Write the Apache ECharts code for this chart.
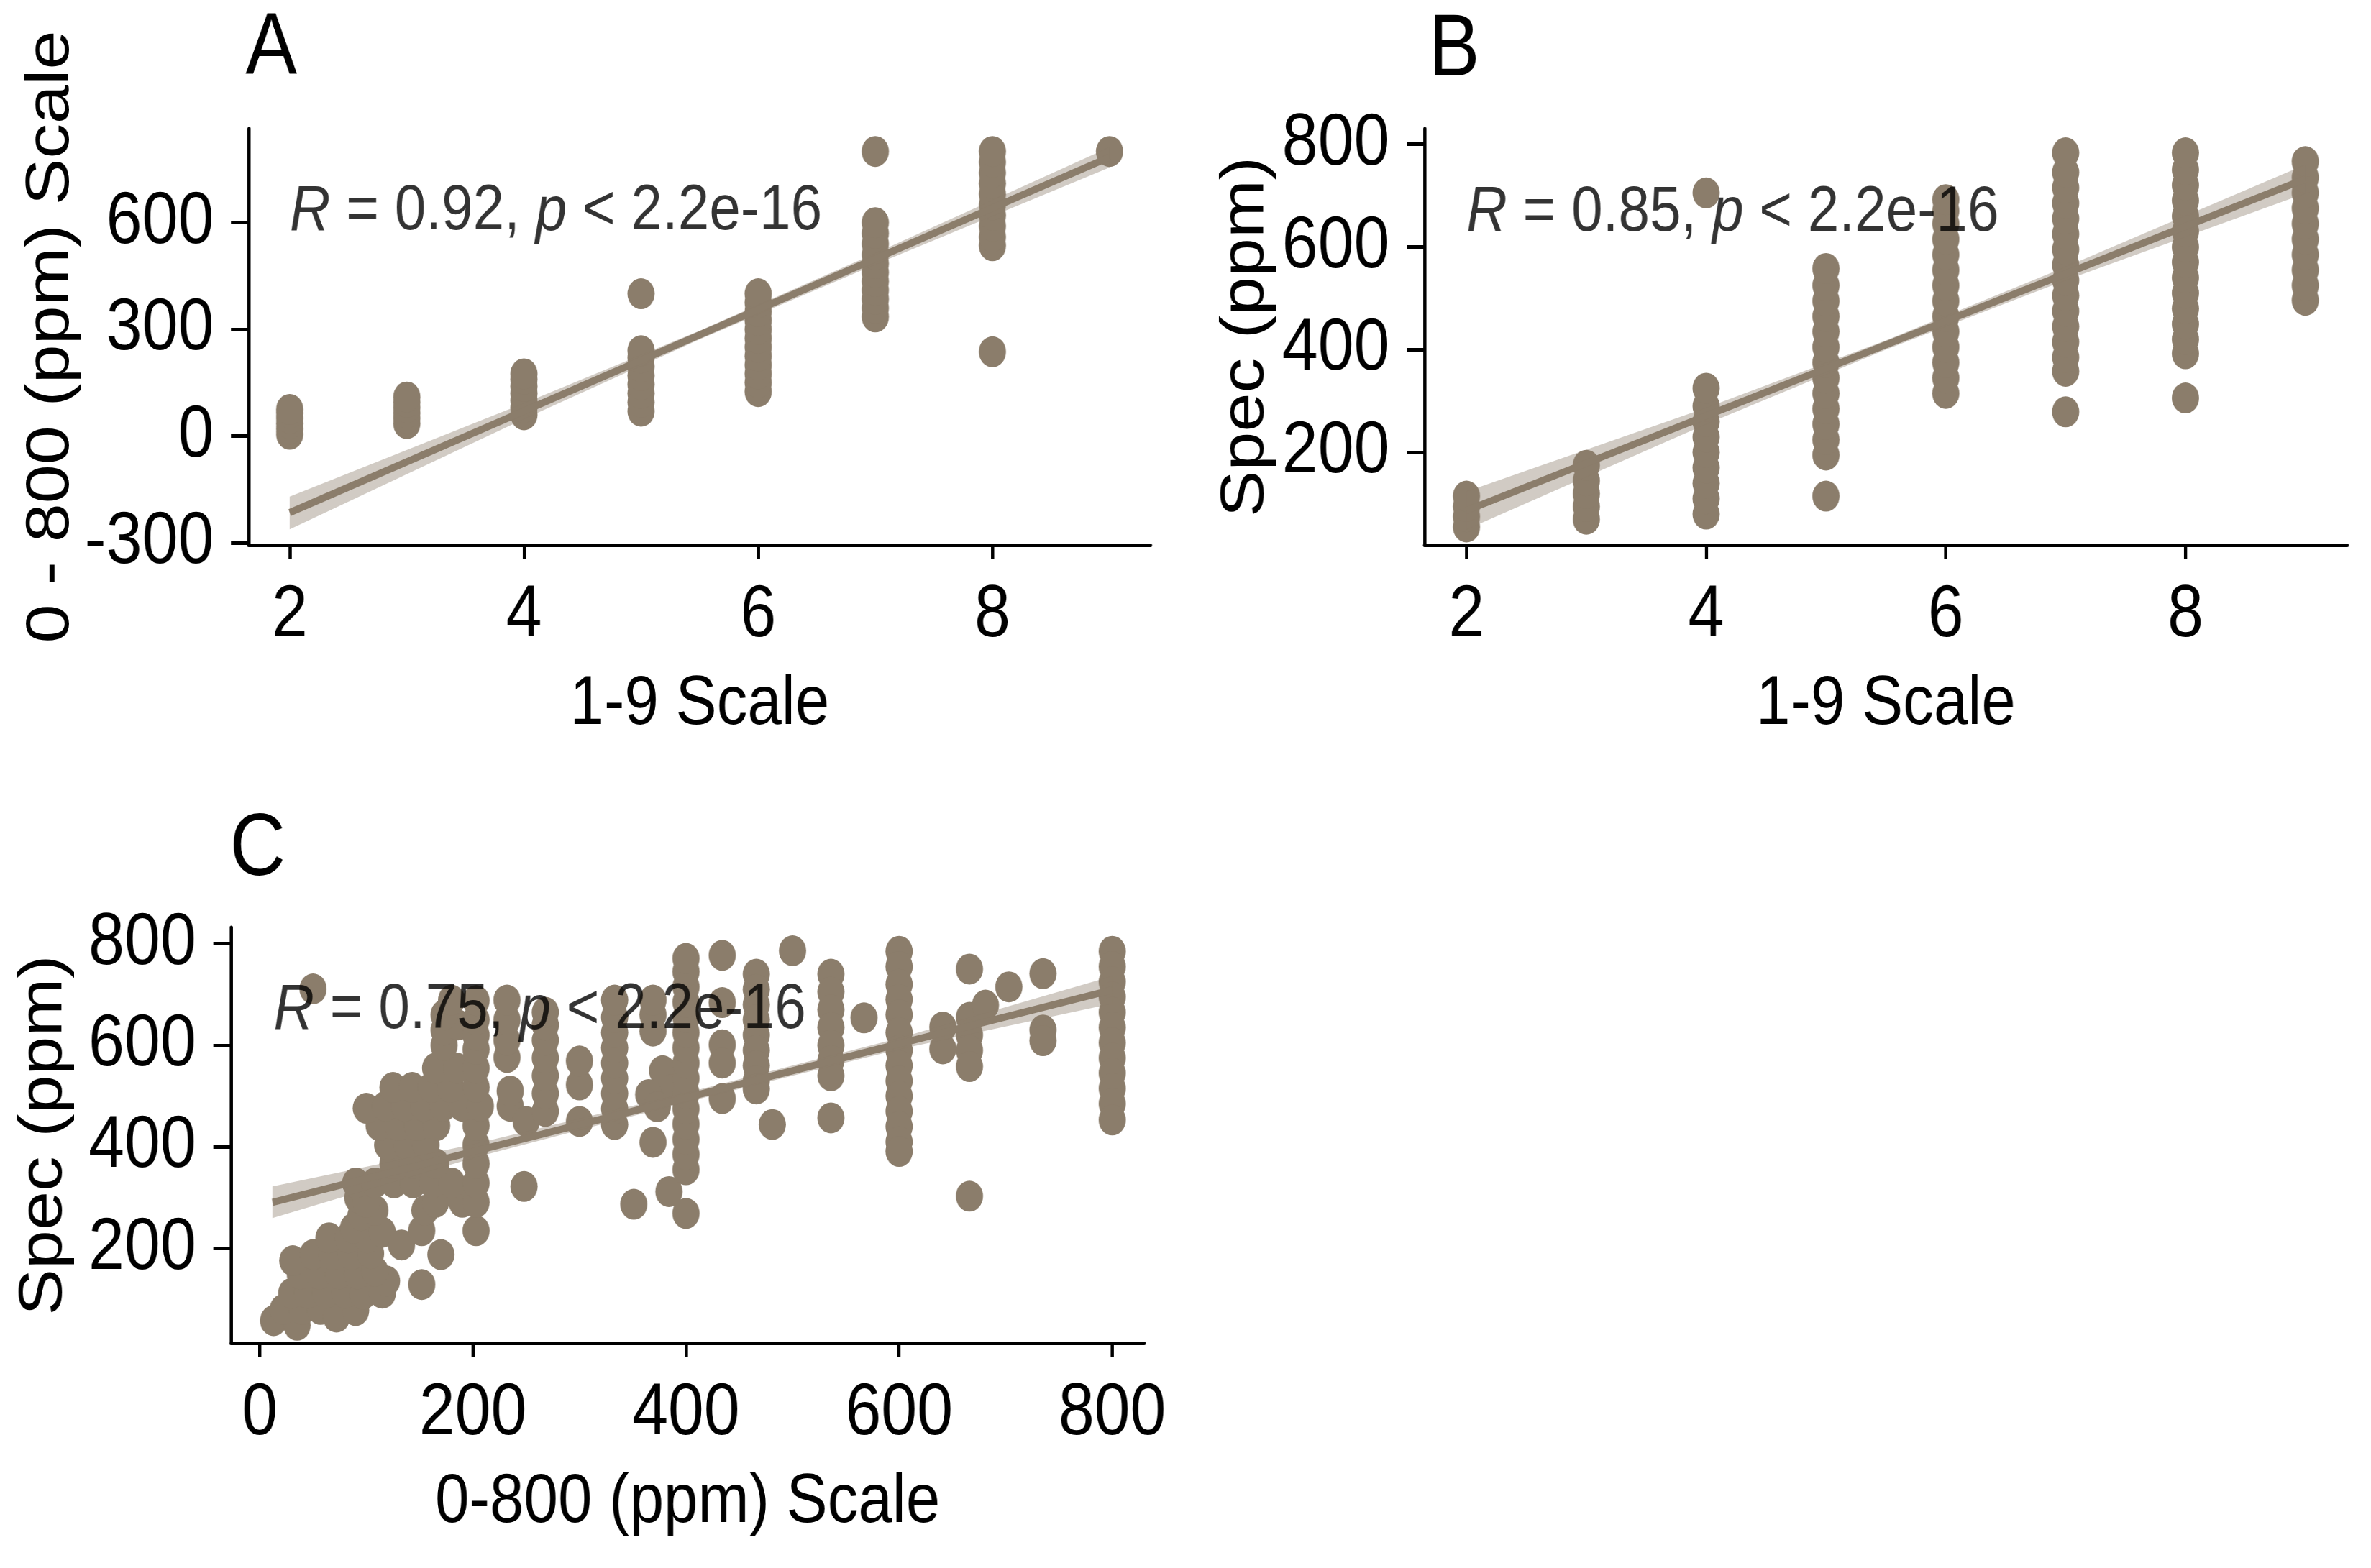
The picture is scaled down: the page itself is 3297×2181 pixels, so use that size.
<!DOCTYPE html>
<html>
<head>
<meta charset="utf-8">
<title>Scale comparison</title>
<script src="https://cdn.jsdelivr.net/npm/echarts@6/dist/echarts.min.js"></script>
<style>
html, body { margin: 0; padding: 0; background: #fff; overflow: hidden; width: 3297px; height: 2181px; }
/* the figure is a bit narrow horizontally, so draw wide and squeeze */
#main { width: 3747px; height: 2181px; transform: scaleX(0.88); transform-origin: 0 0; }
</style>
</head>
<body>
<div id="main"></div>
<script>
// tick labels
var ticks19 = [2, 4, 6, 8];
var ticksA_y = [-300, 0, 300, 600];
var ticksSpec = [200, 400, 600, 800];
var ticksPpm = [0, 200, 400, 600, 800];

// A : 1-9 scale vs 0-800 (ppm) scale
var pointsA = [
  [2,5],[2,20],[2,35],[2,50],[2,65],[2,75],
  [3,35],[3,50],[3,65],[3,80],[3,95],[3,110],
  [4,60],[4,80],[4,100],[4,120],[4,140],[4,160],[4,175],
  [5,70],[5,95],[5,120],[5,145],[5,170],[5,195],[5,220],[5,240],[5,400],
  [6,125],[6,150],[6,175],[6,200],[6,225],[6,250],[6,275],[6,300],[6,325],[6,350],[6,375],[6,400],
  [7,335],[7,360],[7,385],[7,410],[7,435],[7,460],[7,485],[7,510],[7,540],[7,570],[7,600],[7,800],
  [8,237],[8,535],[8,560],[8,590],[8,620],[8,650],[8,680],[8,710],[8,740],[8,770],[8,800],
  [9,800]
];
var fitA = [[2,-215],[9,784]];
var bandA_x = [2, 4, 5.5, 7, 9];
var bandA_lo = [-262, 48, 272, 482, 755];
var bandA_hi = [-170, 92, 296, 514, 812];

// B : 1-9 scale vs Spec (ppm)
var pointsB = [
  [2,55],[2,75],[2,95],[2,115],
  [3,70],[3,95],[3,120],[3,145],[3,175],
  [4,80],[4,110],[4,140],[4,170],[4,200],[4,230],[4,260],[4,290],[4,325],[4,705],
  [5,115],[5,195],[5,225],[5,255],[5,285],[5,315],[5,345],[5,375],[5,405],[5,435],[5,465],[5,495],[5,525],[5,558],
  [6,315],[6,345],[6,375],[6,405],[6,435],[6,465],[6,495],[6,525],[6,555],[6,585],[6,615],[6,645],[6,670],[6,692],
  [7,279],[7,358],[7,385],[7,415],[7,445],[7,475],[7,505],[7,535],[7,565],[7,595],[7,625],[7,655],[7,685],[7,715],[7,745],[7,783],
  [8,306],[8,392],[8,420],[8,450],[8,480],[8,510],[8,540],[8,570],[8,600],[8,630],[8,660],[8,690],[8,720],[8,750],[8,783],
  [9,496],[9,525],[9,555],[9,585],[9,615],[9,645],[9,675],[9,705],[9,735],[9,766]
];
var fitB = [[2,87],[9,732]];
var bandB_x = [2, 4, 5.5, 7, 9];
var bandB_lo = [50, 255, 400, 535, 704];
var bandB_hi = [124, 287, 418, 561, 760];

// C : 0-800 (ppm) scale vs Spec (ppm)
var pointsC = [
  [13,58],[35,49],[22,80],[40,80],[57,80],[72,65],[90,78],
  [30,112],[45,112],[62,112],[80,112],[97,110],[115,112],[119,136],
  [38,150],[56,150],[74,150],[92,150],[108,155],
  [31,176],[50,188],[68,188],[86,188],[104,190],
  [65,221],[83,221],[101,221],[115,232],[88,240],
  [133,207],[152,235],[170,188],[152,129],[203,235],
  [95,265],[108,275],[92,300],[155,275],
  [100,291],[165,291],[190,291],[203,291],
  [90,329],[108,329],[126,329],[144,329],[162,329],[180,329],[203,329],
  [125,367],[143,367],[165,367],[203,367],
  [120,404],[138,404],[156,404],[203,404],
  [112,442],[130,442],[148,442],[166,442],[203,442],
  [100,476],[118,480],[136,480],[154,480],[172,480],[190,480],[207,480],
  [125,517],[143,517],[161,517],[179,517],[203,517],
  [165,555],[185,555],[203,555],
  [173,600],[173,630],[186,640],[173,660],[180,689],[203,592],[203,620],[203,650],[203,688],
  [232,576],[232,610],[232,650],[232,689],
  [235,480],[235,510],[250,450],[248,322],
  [268,470],[268,505],[268,540],[268,575],[268,610],[268,640],[268,665],
  [300,450],[300,522],[300,569],
  [333,444],[333,475],[333,505],[333,535],[333,565],[333,595],[333,625],[333,655],[333,689],
  [369,409],[369,628],[369,660],[369,689],
  [378,550],[387,513],[365,503],[373,479],
  [384,312],[351,287],
  [400,269],[400,355],[400,385],[400,415],[400,445],[400,475],[400,505],[400,535],[400,565],[400,595],[400,625],[400,655],[400,685],[400,715],[400,745],[400,771],
  [50,711],
  [434,777],[434,684],[434,601],[434,565],[434,495],
  [466,740],[466,710],[466,680],[466,650],[466,620],[466,590],[466,560],[466,530],[466,514],[481,444],
  [500,786],
  [536,740],[536,705],[536,670],[536,635],[536,600],[536,570],[536,540],[536,457],
  [567,654],
  [600,785],[600,755],[600,720],[600,690],[600,660],[600,625],[600,590],[600,560],[600,530],[600,500],[600,470],[600,440],[600,410],[600,391],
  [641,636],[641,593],
  [666,750],[666,655],[666,620],[666,590],[666,558],[666,303],
  [681,679],[703,715],
  [735,741],[735,630],[735,609],
  [800,785],[800,755],[800,725],[800,695],[800,665],[800,635],[800,605],[800,575],[800,545],[800,515],[800,485],[800,453]
];
var fitC = [[12,291],[800,709]];
var bandC_x = [12, 200, 400, 600, 800];
var bandC_lo = [260, 378, 488, 592, 682];
var bandC_hi = [322, 405, 506, 614, 736];

// correlation labels: [x, y, r]
var corA = [2, 630, '0.92'];
var corB = [2, 666, '0.85'];
var corC = [13, 668, '0.75'];

var COL = '#8B7D6B';
var FONT = "'Liberation Sans', Arial, sans-serif";

var chart = echarts.init(document.getElementById('main'));

function xAx(idx, min, max, ticks, name) {
  return {
    type: 'value', gridIndex: idx, min: min, max: max,
    name: name, nameLocation: 'middle', nameGap: 174,
    nameTextStyle: { fontSize: 97, color: '#000', fontFamily: FONT },
    axisLine: { show: true, onZero: false, lineStyle: { color: '#000', width: 5 } },
    axisTick: { show: true, length: 19, customValues: ticks, lineStyle: { color: '#000', width: 5 } },
    axisLabel: { margin: 48, fontSize: 102, color: '#000', fontFamily: FONT, customValues: ticks },
    splitLine: { show: false }
  };
}
function yAx(idx, min, max, ticks, name, gap) {
  return {
    type: 'value', gridIndex: idx, min: min, max: max,
    name: name, nameLocation: 'middle', nameRotate: 90, nameGap: gap,
    nameTextStyle: { fontSize: 97, color: '#000', fontFamily: FONT },
    axisLine: { show: true, onZero: false, lineStyle: { color: '#000', width: 5 } },
    axisTick: { show: true, length: 28, customValues: ticks, lineStyle: { color: '#000', width: 5 } },
    axisLabel: { margin: 55, fontSize: 102, color: '#000', fontFamily: FONT, customValues: ticks },
    splitLine: { show: false }
  };
}

function band(idx, xs, lo, hi) {
  return {
    type: 'custom', xAxisIndex: idx, yAxisIndex: idx, silent: true, z: 3,
    data: [[xs[0], lo[0]]],
    renderItem: function (params, api) {
      var pts = [];
      for (var i = 0; i < xs.length; i++) pts.push(api.coord([xs[i], hi[i]]));
      for (var j = xs.length - 1; j >= 0; j--) pts.push(api.coord([xs[j], lo[j]]));
      return { type: 'polygon', shape: { points: pts }, style: { fill: 'rgba(139,125,107,0.4)' } };
    }
  };
}
function pts(idx, data) {
  return {
    type: 'scatter', xAxisIndex: idx, yAxisIndex: idx, data: data, z: 2,
    symbol: 'circle', symbolSize: 43, itemStyle: { color: COL, opacity: 1 }, silent: true
  };
}
function fit(idx, data) {
  return {
    type: 'line', xAxisIndex: idx, yAxisIndex: idx, data: data, z: 4,
    symbol: 'none', lineStyle: { color: COL, width: 10 }, silent: true
  };
}
function cor(idx, c) {
  return {
    type: 'scatter', xAxisIndex: idx, yAxisIndex: idx, z: 10, silent: true,
    data: [[c[0], c[1]]], symbolSize: 0,
    label: {
      show: true, position: 'right', distance: 0,
      formatter: '{i|R} = ' + c[2] + ', {i|p} < 2.2e-16',
      fontSize: 89, color: '#000', fontFamily: FONT,
      rich: { i: { fontStyle: 'italic', fontSize: 89, color: '#000', fontFamily: FONT } }
    }
  };
}

var option = {
  animation: false,
  backgroundColor: '#fff',
  grid: [
    { left: 393, top: 179, width: 1425, height: 579, containLabel: false, outerBoundsMode: 'none' },
    { left: 2251, top: 179, width: 1458, height: 579, containLabel: false, outerBoundsMode: 'none' },
    { left: 365, top: 1290, width: 1443, height: 578, containLabel: false, outerBoundsMode: 'none' }
  ],
  xAxis: [
    xAx(0, 1.65, 9.35, ticks19, '1-9 Scale'),
    xAx(1, 1.65, 9.35, ticks19, '1-9 Scale'),
    xAx(2, -27, 830, ticksPpm, '0-800 (ppm) Scale')
  ],
  yAxis: [
    yAx(0, -306, 864, ticksA_y, '0 - 800 (ppm) Scale', 263),
    yAx(1, 20, 830, ticksSpec, 'Spec (ppm)', 233),
    yAx(2, 14, 832, ticksSpec, 'Spec (ppm)', 246)
  ],
  graphic: [
    { type: 'text', left: 388, top: 8, style: { text: 'A', font: '122px ' + FONT, fill: '#000' } },
    { type: 'text', left: 2257, top: 10, style: { text: 'B', font: '122px ' + FONT, fill: '#000' } },
    { type: 'text', left: 363, top: 1122, style: { text: 'C', font: '122px ' + FONT, fill: '#000' } }
  ],
  series: [
    pts(0, pointsA), band(0, bandA_x, bandA_lo, bandA_hi), fit(0, fitA), cor(0, corA),
    pts(1, pointsB), band(1, bandB_x, bandB_lo, bandB_hi), fit(1, fitB), cor(1, corB),
    pts(2, pointsC), band(2, bandC_x, bandC_lo, bandC_hi), fit(2, fitC), cor(2, corC)
  ]
};
chart.setOption(option);
</script>
</body>
</html>
